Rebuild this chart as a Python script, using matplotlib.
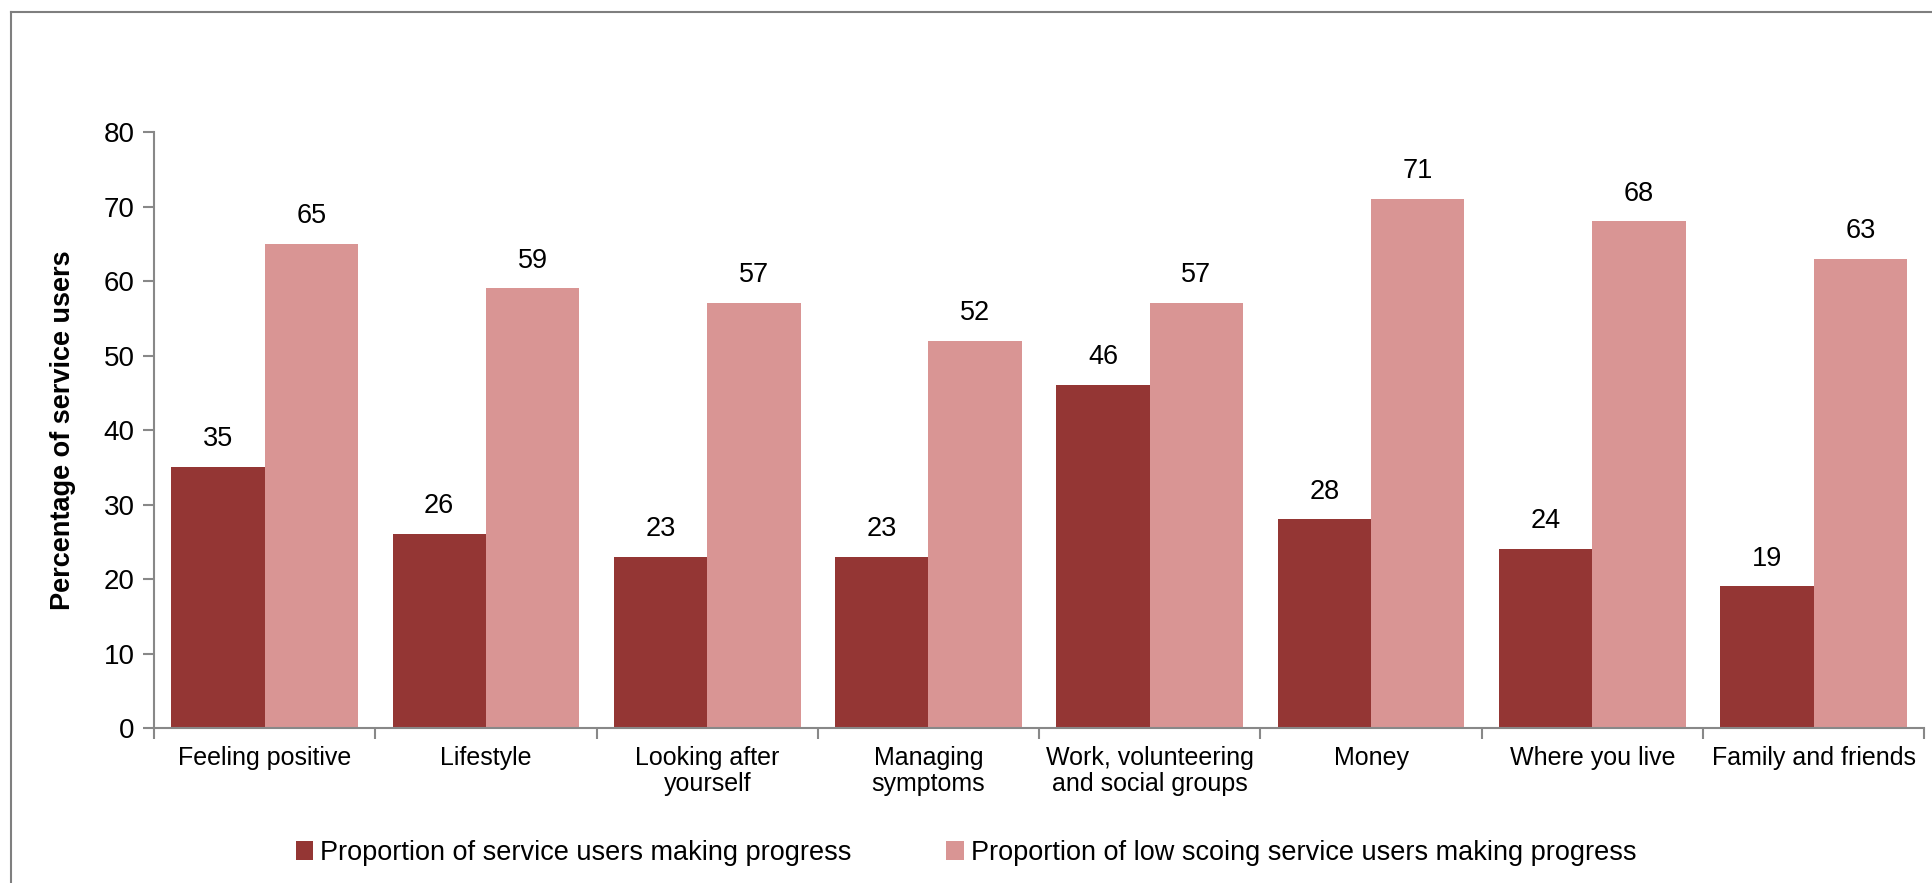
import numpy as np
import matplotlib.pyplot as plt
from matplotlib.lines import Line2D

plt.rcParams['font.family'] = ['Liberation Sans', 'DejaVu Sans']

categories = ['Feeling positive', 'Lifestyle', 'Looking after\nyourself', 'Managing\nsymptoms',
              'Work, volunteering\nand social groups', 'Money', 'Where you live', 'Family and friends']
progress = [35, 26, 23, 23, 46, 28, 24, 19]
low_scoring = [65, 59, 57, 52, 57, 71, 68, 63]
series_names = ['Proportion of service users making progress',
                'Proportion of low scoing service users making progress']

dark = '#943634'
pink = '#D99594'
grey = '#888888'

fig = plt.figure(figsize=(19.32, 8.83), dpi=100)
ax = fig.add_axes([0.0797, 0.1755, 0.9163, 0.675])

x = np.arange(len(categories))
w = 0.422
b1 = ax.bar(x - w/2, progress, w, color=dark, label=series_names[0])
b2 = ax.bar(x + w/2, low_scoring, w, color=pink, label=series_names[1])
for bars in (b1, b2):
    for r in bars:
        ax.text(r.get_x() + r.get_width()/2, r.get_height() + 2.0, '%d' % r.get_height(),
                ha='center', va='bottom', fontsize=19.5)

ax.set_xlim(-0.5, len(categories) - 0.5)
ax.set_ylim(0, 80)
ax.set_yticks(np.arange(0, 81, 10))
ax.set_xticks(x)
ax.set_xticklabels(categories, fontsize=18, linespacing=1.1)
ax.set_xticks(np.arange(-0.5, len(categories)), minor=True)
ax.tick_params(axis='x', which='major', length=0, pad=13)
ax.tick_params(axis='x', which='minor', length=8, color=grey, width=1.5)
ax.tick_params(axis='y', length=8, color=grey, width=1.5, labelsize=20, pad=6)
for s in ['top', 'right']:
    ax.spines[s].set_visible(False)
for s in ['left', 'bottom']:
    ax.spines[s].set_color(grey)
    ax.spines[s].set_linewidth(1.5)
ax.set_ylabel('Percentage of service users', fontsize=19.5, fontweight='bold', labelpad=20)

ax.legend(loc='center', bbox_to_anchor=(0.5, 0.034), bbox_transform=fig.transFigure, ncol=2,
          frameon=False, fontsize=19.5, handlelength=0.65, handleheight=0.65, handletextpad=0.25,
          columnspacing=3.5)

# outer chart frame
fig.add_artist(Line2D([0.0057, 1.0], [0.9864, 0.9864], color='#7f7f7f', lw=1.5, transform=fig.transFigure))
fig.add_artist(Line2D([0.0057, 0.0057], [0.0, 0.9864], color='#7f7f7f', lw=1.5, transform=fig.transFigure))

fig.savefig('out.png', dpi=100)
